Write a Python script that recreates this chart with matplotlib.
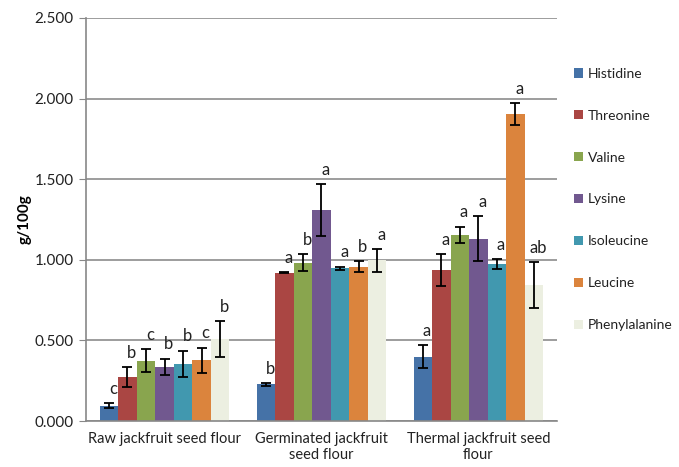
import numpy as np
import matplotlib
matplotlib.use("Agg")
import matplotlib.pyplot as plt

plt.rcParams['font.family'] = ['Lato', 'DejaVu Sans']

categories = ["Raw jackfruit seed flour", "Germinated jackfruit\nseed flour",
              "Thermal jackfruit seed\nflour"]
amino_acids = ["Histidine", "Threonine", "Valine", "Lysine", "Isoleucine",
               "Leucine", "Phenylalanine"]

# values per amino acid: [raw, germinated, thermal]
values = [
    [0.095, 0.228, 0.399],
    [0.275, 0.920, 0.935],
    [0.374, 0.982, 1.156],
    [0.337, 1.309, 1.131],
    [0.356, 0.947, 0.972],
    [0.376, 0.957, 1.903],
    [0.509, 0.997, 0.844],
]
errors = [
    [0.017, 0.008, 0.070],
    [0.061, 0.003, 0.100],
    [0.071, 0.052, 0.050],
    [0.050, 0.160, 0.140],
    [0.081, 0.010, 0.031],
    [0.079, 0.033, 0.068],
    [0.110, 0.071, 0.140],
]
letters = [
    ["c", "b", "a"],
    ["b", "a", "a"],
    ["c", "b", "a"],
    ["b", "a", "a"],
    ["b", "a", "a"],
    ["c", "b", "a"],
    ["b", "a", "ab"],
]
colors = ["#4572A7", "#AA4643", "#89A54E", "#71588F", "#4198AF", "#DB843D", "#ECEFE1"]

fig = plt.figure(figsize=(6.79, 4.67), dpi=100)
ax = fig.add_axes([0.1267, 0.0985, 0.6935, 0.863])

x = np.arange(len(categories))
w = 0.118
n = len(amino_acids)
for i, name in enumerate(amino_acids):
    pos = x + (i - (n - 1) / 2) * w
    ax.bar(pos, values[i], w, color=colors[i], label=name, zorder=2)
    ax.errorbar(pos, values[i], yerr=errors[i], fmt='none', ecolor='black',
                elinewidth=1.3, capsize=3.5, capthick=1.3, zorder=3)
    for j in range(len(categories)):
        top = values[i][j] + errors[i][j]
        ax.annotate(letters[i][j], (pos[j], top), xytext=(3, 4.5),
                    textcoords='offset points', ha='center', va='bottom',
                    fontsize=12, color='#222222', zorder=4)

ax.set_xlim(-0.5, 2.5)
ax.set_ylim(0, 2.5)
ax.set_yticks(np.arange(0, 2.51, 0.5))
ax.set_yticklabels([f"{v:.3f}" for v in np.arange(0, 2.51, 0.5)])
ax.set_xticks(x)
ax.set_xticklabels(categories, fontsize=10.5, color='#222222')
ax.tick_params(axis='x', length=0, pad=8)
ax.tick_params(axis='y', length=5, color='#888888', labelsize=11,
               labelcolor='#222222', pad=4)
ax.yaxis.grid(True, color='#8c8c8c', linewidth=1.2, zorder=0)
ax.set_axisbelow(True)
for s in ['top', 'right']:
    ax.spines[s].set_visible(False)
ax.spines['left'].set_color('#888888')
ax.spines['bottom'].set_color('#888888')
ax.spines['left'].set_linewidth(1.2)
ax.spines['bottom'].set_linewidth(1.2)

ax.set_ylabel("g/100g", fontsize=11, fontweight='bold', labelpad=2)

leg = ax.legend(loc='upper left', bbox_to_anchor=(1.025, 0.89), frameon=False,
                handlelength=0.65, handleheight=0.65, handletextpad=0.35,
                labelspacing=2.15, fontsize=10, borderaxespad=0)
for t in leg.get_texts():
    t.set_color('#222222')

fig.savefig("out.png", dpi=100)
